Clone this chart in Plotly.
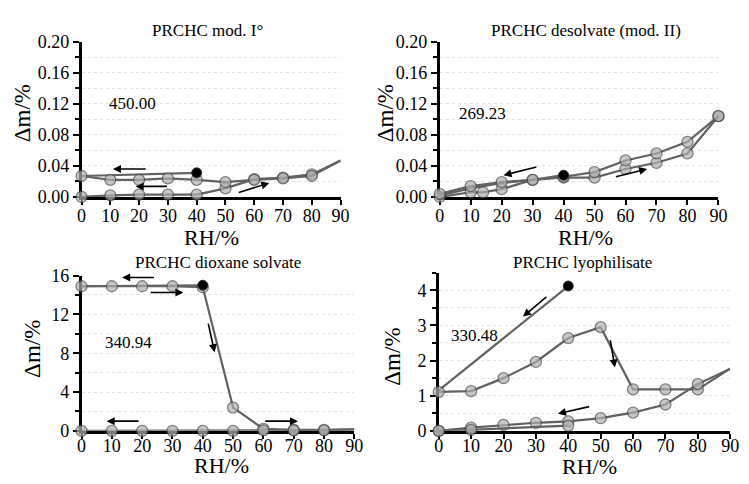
import plotly.graph_objects as go

# ---------------- data ----------------
rh_up = [0, 10, 20, 30, 40, 50, 60, 70, 80, 90]
rh_down = [90, 80, 70, 60, 50, 40, 30, 20, 10, 0]

# Panel 1: PRCHC mod. I°
p1_start_x = [40, 0]
p1_start_y = [0.031, 0.027]
p1_sorp_y = [0.000, 0.002, 0.003, 0.003, 0.003, 0.011, 0.023, 0.025, 0.029, 0.047]
p1_desorp_y = [0.047, 0.027, 0.024, 0.022, 0.019, 0.022, 0.024, 0.022, 0.022, 0.027]

# Panel 2: PRCHC desolvate (mod. II)
p2_start_x = [40, 30, 20, 10, 0]
p2_start_y = [0.028, 0.022, 0.018, 0.011, 0.002]
p2_sorp_x = [0, 10, 14, 20, 30, 40, 50, 60, 70, 80, 90]
p2_sorp_y = [0.000, 0.006, 0.006, 0.010, 0.022, 0.025, 0.025, 0.036, 0.044, 0.056, 0.104]
p2_desorp_y = [0.104, 0.071, 0.056, 0.047, 0.032, 0.026, 0.022, 0.019, 0.014, 0.004]

# Panel 3: PRCHC dioxane solvate
p3_start_x = [40, 0]
p3_start_y = [15.0, 14.9]
p3_sorp_y = [14.9, 14.9, 14.9, 14.9, 14.8, 2.4, 0.2, 0.1, 0.1, 0.15]
p3_desorp_y = [0.15, 0.05, 0.05, 0.05, 0.0, 0.0, 0.0, 0.0, 0.0, 0.0]

# Panel 4: PRCHC lyophilisate
p4_start_x = [40, 0]
p4_start_y = [4.12, 1.15]
p4_sorp_y = [1.11, 1.13, 1.50, 1.96, 2.64, 2.95, 1.18, 1.18, 1.18, 1.77]
p4_desorp_y = [1.77, 1.33, 0.75, 0.52, 0.36, 0.27, 0.23, 0.17, 0.09, 0.00]
p4_sorp2_x = [0, 10, 40]
p4_sorp2_y = [0.00, 0.03, 0.15]

titles = ["PRCHC mod. I°", "PRCHC desolvate (mod. II)",
          "PRCHC dioxane solvate", "PRCHC lyophilisate"]
numbers = ["450.00", "269.23", "340.94", "330.48"]
x_ticks = [0, 10, 20, 30, 40, 50, 60, 70, 80, 90]

# ---------------- styling ----------------
W, H = 749, 484
FONT = "Liberation Serif"
LINE_C = "#626262"
MK_FILL = "#b0b0b0"
MK_EDGE = "#4a4a4a"

fig = go.Figure()


def xa(idx):
    return "x" if idx == 1 else f"x{idx}"


def ya(idx):
    return "y" if idx == 1 else f"y{idx}"


def add_line(idx, x, y, markers=True, hide=()):
    sizes = [11] * len(x)
    for h in hide:
        sizes[h] = 0
    fig.add_trace(go.Scatter(
        x=x, y=y, xaxis=xa(idx), yaxis=ya(idx),
        mode="lines+markers" if markers else "lines",
        line=dict(color=LINE_C, width=2.2),
        marker=dict(size=sizes, color=MK_FILL, line=dict(color=MK_EDGE, width=1.3)),
        cliponaxis=False, showlegend=False, hoverinfo="skip"))


def add_start(idx, x, y):
    fig.add_trace(go.Scatter(
        x=[x[0]], y=[y[0]], xaxis=xa(idx), yaxis=ya(idx), mode="markers",
        marker=dict(size=10, color="black", line=dict(color="#333", width=1)),
        cliponaxis=False, showlegend=False, hoverinfo="skip"))


# panel 1
add_line(1, p1_start_x, p1_start_y, markers=False)
add_line(1, rh_up, p1_sorp_y, hide=(-1,))
add_line(1, rh_down, p1_desorp_y, hide=(0,))
add_start(1, p1_start_x, p1_start_y)
# panel 2
add_line(2, p2_start_x, p2_start_y, markers=False)
add_line(2, p2_sorp_x, p2_sorp_y)
add_line(2, rh_down, p2_desorp_y)
add_start(2, p2_start_x, p2_start_y)
# panel 3
add_line(3, p3_start_x, p3_start_y, markers=False)
add_line(3, rh_up, p3_sorp_y, hide=(-1,))
add_line(3, rh_down, p3_desorp_y, hide=(0,))
add_start(3, p3_start_x, p3_start_y)
# panel 4
add_line(4, p4_start_x, p4_start_y, markers=False)
add_line(4, rh_up, p4_sorp_y, hide=(-1,))
add_line(4, rh_down, p4_desorp_y, hide=(0,))
add_line(4, p4_sorp2_x, p4_sorp2_y)
add_start(4, p4_start_x, p4_start_y)

# panel geometry (pixels)
panels = {
    1: dict(x0=78, x1=342, top=33, bot=195, yr=[0, 0.2], dt=0.04, mdt=0.02, fmt=".2f", so=-4),
    2: dict(x0=443, x1=727, top=33, bot=195, yr=[0, 0.2], dt=0.04, mdt=0.02, fmt=".2f", so=-4),
    3: dict(x0=78, x1=356, top=277, bot=439, yr=[0, 16], dt=4, mdt=2, fmt="d", so=-8),
    4: dict(x0=442, x1=739, top=274, bot=439, yr=[0, 4.5], dt=1, mdt=0.5, fmt="d", so=-8),
}

layout = dict(width=W, height=H, margin=dict(l=0, r=0, t=0, b=0),
              paper_bgcolor="white", plot_bgcolor="white",
              font=dict(family=FONT, color="black"))
for i, p in panels.items():
    xk = "xaxis" if i == 1 else f"xaxis{i}"
    yk = "yaxis" if i == 1 else f"yaxis{i}"
    layout[xk] = dict(domain=[p["x0"] / W, p["x1"] / W], anchor=ya(i), range=[0, 90],
                      tickvals=x_ticks, ticks="outside", ticklen=5, tickwidth=1.5,
                      tickcolor="black", showline=True, linecolor="black", linewidth=2.5,
                      showgrid=False, zeroline=False, layer="below traces",
                      ticklabelstandoff=p["so"],
                      tickfont=dict(family=FONT, size=18, color="black"))
    layout[yk] = dict(domain=[1 - p["bot"] / H, 1 - p["top"] / H], anchor=xa(i),
                      range=p["yr"], dtick=p["dt"], tick0=0, tickformat=p["fmt"],
                      ticks="outside", ticklen=6, tickwidth=1.5, tickcolor="black",
                      showline=True, linecolor="black", linewidth=2.5,
                      showgrid=True, gridcolor="#e4e4e4", griddash="dot", gridwidth=1,
                      zeroline=False, layer="below traces",
                      minor=dict(dtick=p["mdt"], tick0=0, ticks="outside", ticklen=4,
                                 tickwidth=1.5, tickcolor="black", showgrid=True,
                                 gridcolor="#e4e4e4", griddash="dot"),
                      tickfont=dict(family=FONT, size=18, color="black"))

annotations = []
# titles, axis labels
title_pos = [(206, 21), (592, 21), (217, 263), (589, 263)]
ylab_pos = [(18, 108), (388, 108), (28, 353), (394, 362)]
xlab_pos = [(210, 237), (592, 237), (221, 475), (596, 476)]
for k in range(4):
    tx, ty = title_pos[k]
    annotations.append(dict(text=titles[k], x=tx / W, y=1 - ty / H, xref="paper", yref="paper",
                            showarrow=False, font=dict(size=17), xanchor="center", yanchor="middle"))
    lx, ly = ylab_pos[k]
    annotations.append(dict(text="Δm/%", x=lx / W, y=1 - ly / H, xref="paper", yref="paper",
                            showarrow=False, textangle=-90, font=dict(size=23),
                            xanchor="center", yanchor="middle"))
    rx, ry = xlab_pos[k]
    annotations.append(dict(text="RH/%", x=rx / W, y=1 - ry / H, xref="paper", yref="paper",
                            showarrow=False, font=dict(size=22), xanchor="center", yanchor="middle",
                            borderpad=0))

# number labels (data coords)
num_pos = [(17.7, 0.12), (13.9, 0.107), (15.6, 9.15), (11.1, 2.71)]
for k in range(4):
    nx, ny = num_pos[k]
    annotations.append(dict(text=numbers[k], x=nx, y=ny, xref=xa(k + 1), yref=ya(k + 1),
                            showarrow=False, font=dict(size=17)))

# direction arrows: (panel, head_x, head_y, tail_x, tail_y)
arrows = [
    (1, 10.9, 0.036, 22.8, 0.036),
    (1, 18.8, 0.0136, 30.2, 0.0136),
    (1, 65.2, 0.018, 54.1, 0.005),
    (2, 20.6, 0.028, 31.7, 0.039),
    (2, 67.0, 0.036, 56.4, 0.0255),
    (3, 13.4, 15.8, 24.4, 15.8),
    (3, 33.6, 14.25, 22.3, 14.25),
    (3, 43.9, 8.1, 41.7, 11.2),
    (3, 8.3, 1.0, 19.3, 1.0),
    (3, 71.4, 1.0, 60.1, 1.0),
    (4, 26.0, 3.25, 33.7, 3.85),
    (4, 54.4, 1.8, 52.9, 2.62),
    (4, 36.8, 0.49, 46.9, 0.70),
]
for (k, hx, hy, tx, ty) in arrows:
    annotations.append(dict(x=hx, y=hy, ax=tx, ay=ty, xref=xa(k), yref=ya(k),
                            axref=xa(k), ayref=ya(k), text="", showarrow=True,
                            arrowhead=2, arrowsize=1, arrowwidth=1.6, arrowcolor="black"))

layout["annotations"] = annotations
fig.update_layout(**layout)
fig.write_html("out.html")
